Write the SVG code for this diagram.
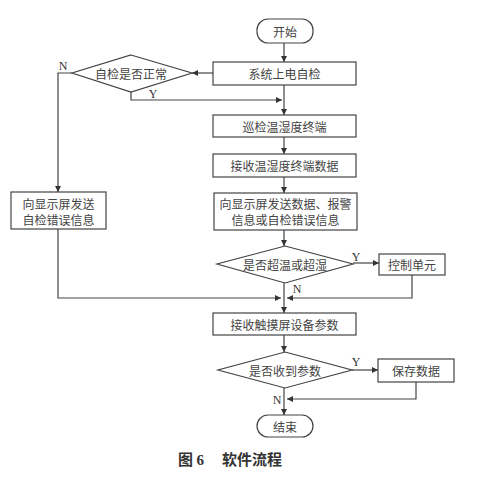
<svg xmlns="http://www.w3.org/2000/svg" width="480" height="485" viewBox="0 0 480 485">
<defs>
<marker id="ah" markerWidth="8" markerHeight="8" refX="6" refY="3" orient="auto" markerUnits="userSpaceOnUse">
<path d="M0,0 L6,3 L0,6 Z" fill="#333"/>
</marker>
<style>
.n rect,.n path{fill:#fff;stroke:#444;stroke-width:1.2}
.t{font-family:"Noto Sans CJK SC",sans-serif;font-size:12px;fill:#444;text-anchor:middle;dominant-baseline:central}
.l{font-family:"Liberation Serif",serif;font-size:12px;fill:#333;text-anchor:middle;dominant-baseline:central}
.c path{fill:none;stroke:#444;stroke-width:1.2}
.cap{font-family:"Noto Sans CJK SC",sans-serif;font-size:15px;font-weight:bold;fill:#333}
</style>
</defs>
<rect width="480" height="485" fill="#fff"/>
<g class="c">
<path d="M284,43 V62" marker-end="url(#ah)"/>
<path d="M213,73 H192" marker-end="url(#ah)"/>
<path d="M72,73 H58 V192" marker-end="url(#ah)"/>
<path d="M131,92 V100 H282" marker-end="url(#ah)"/>
<path d="M284,85 V115" marker-end="url(#ah)"/>
<path d="M284,137 V154" marker-end="url(#ah)"/>
<path d="M284,177 V193" marker-end="url(#ah)"/>
<path d="M284,230 V246" marker-end="url(#ah)"/>
<path d="M353,263 H379" marker-end="url(#ah)"/>
<path d="M412,275 V298 H287" marker-end="url(#ah)"/>
<path d="M58,229 V298 H281" marker-end="url(#ah)"/>
<path d="M284,283 V313" marker-end="url(#ah)"/>
<path d="M284,335 V352" marker-end="url(#ah)"/>
<path d="M352,370 H378" marker-end="url(#ah)"/>
<path d="M416,382 V399 H287" marker-end="url(#ah)"/>
<path d="M284,388 V415" marker-end="url(#ah)"/>
</g>
<g id="start" class="n"><rect x="257" y="19" width="56" height="24" rx="11"/><text class="t" x="285" y="31">开始</text></g>
<g id="selfcheck" class="n"><rect x="213" y="62" width="143" height="23"/><text class="t" x="284.5" y="73.5">系统上电自检</text></g>
<g id="dec1" class="n"><path d="M131,55 L192,73 L131,92 L72,73 Z"/><text class="t" x="131" y="73.5">自检是否正常</text></g>
<g id="errbox" class="n"><rect x="11" y="192" width="95" height="37"/><text class="t" x="58.5" y="203">向显示屏发送</text><text class="t" x="58.5" y="219">自检错误信息</text></g>
<g id="patrol" class="n"><rect x="213" y="115" width="143" height="22"/><text class="t" x="284.5" y="126">巡检温湿度终端</text></g>
<g id="recv" class="n"><rect x="213" y="154" width="143" height="23"/><text class="t" x="284.5" y="165.5">接收温湿度终端数据</text></g>
<g id="send" class="n"><rect x="214" y="193" width="143" height="37"/><text class="t" x="285.5" y="203.5">向显示屏发送数据、报警</text><text class="t" x="285.5" y="219.5">信息或自检错误信息</text></g>
<g id="dec2" class="n"><path d="M285,246 L353,264 L285,283 L217,264 Z"/><text class="t" x="285" y="264">是否超温或超湿</text></g>
<g id="ctrl" class="n"><rect x="379" y="254" width="66" height="21"/><text class="t" x="412" y="264.5">控制单元</text></g>
<g id="touch" class="n"><rect x="213" y="313" width="143" height="22"/><text class="t" x="284.5" y="324">接收触摸屏设备参数</text></g>
<g id="dec3" class="n"><path d="M285,352 L352,370 L285,388 L218,370 Z"/><text class="t" x="285" y="370">是否收到参数</text></g>
<g id="save" class="n"><rect x="378" y="359" width="76" height="23"/><text class="t" x="416" y="370.5">保存数据</text></g>
<g id="end" class="n"><rect x="257" y="415" width="56" height="22" rx="11"/><text class="t" x="285" y="426">结束</text></g>
<g id="labels">
<text class="l" x="63" y="66">N</text>
<text class="l" x="153" y="94">Y</text>
<text class="l" x="356" y="257">Y</text>
<text class="l" x="297" y="289">N</text>
<text class="l" x="356" y="362">Y</text>
<text class="l" x="277" y="400">N</text>
</g>
<text class="cap" x="178" y="465">图 <tspan font-family="Liberation Serif">6</tspan><tspan x="222">软件流程</tspan></text>
</svg>
